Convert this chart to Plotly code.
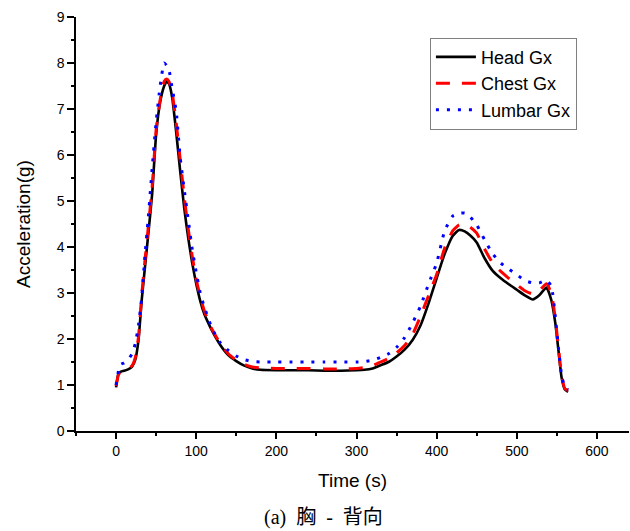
import plotly.graph_objects as go

time_s = [0, 3, 6, 10, 15, 20, 24, 28, 32, 36, 40, 45, 50, 55, 60, 63, 66, 70, 75, 80, 85, 90, 95,
          100, 105, 110, 115, 120, 130, 140, 150, 160, 170, 180, 200, 220, 240, 260, 280, 300,
          310, 320, 330, 340, 350, 360, 370, 380, 390, 400, 410, 420, 428, 435, 442, 450, 460,
          470, 480, 490, 500, 510, 520, 528, 537, 543, 548, 552, 556, 560, 564]

head_gx = [0.95, 1.25, 1.29, 1.31, 1.34, 1.40, 1.55, 1.98, 2.85, 3.55, 4.25, 5.15, 6.45, 7.15, 7.5, 7.6, 7.55,
           7.25, 6.5, 5.65, 4.85, 4.2, 3.65, 3.2, 2.83, 2.55, 2.35, 2.17, 1.87, 1.65, 1.52, 1.42, 1.36,
           1.33, 1.32, 1.32, 1.32, 1.31, 1.31, 1.32, 1.33, 1.36, 1.43, 1.5, 1.62, 1.77, 1.98, 2.3, 2.78,
           3.32, 3.85, 4.24, 4.37, 4.34, 4.25, 4.1, 3.75, 3.48, 3.32, 3.19, 3.07, 2.95, 2.86, 2.95, 3.12,
           2.85, 2.35, 1.75, 1.15, 0.9, 0.85]

chest_gx = [0.98, 1.22, 1.3, 1.32, 1.35, 1.42, 1.6, 2.05, 2.95, 3.7, 4.4, 5.3, 6.55, 7.2, 7.6, 7.65, 7.6,
            7.35, 6.7, 5.9, 5.1, 4.4, 3.8, 3.3, 2.92, 2.62, 2.4, 2.2, 1.9, 1.68, 1.54, 1.45, 1.39,
            1.37, 1.36, 1.36, 1.36, 1.35, 1.35, 1.36, 1.38, 1.42, 1.5, 1.58, 1.7, 1.86, 2.1, 2.5, 2.95,
            3.4, 3.98, 4.35, 4.48, 4.5, 4.43, 4.3, 3.95, 3.65, 3.47, 3.32, 3.18, 3.05, 2.98, 3.05, 3.2,
            3.0, 2.45, 1.8, 1.2, 0.92, 0.88]

lumbar_gx = [1.0, 1.3, 1.45, 1.48, 1.55, 1.68, 1.9, 2.3, 2.9, 3.8, 4.6, 5.7, 6.72, 7.5, 8.0, 7.95, 7.85,
             7.45, 6.95, 5.95, 5.25, 4.6, 3.95, 3.45, 3.0, 2.7, 2.45, 2.22, 1.92, 1.75, 1.63, 1.55, 1.51,
             1.5, 1.5, 1.5, 1.5, 1.5, 1.5, 1.5, 1.51, 1.54, 1.6, 1.68, 1.82, 2.03, 2.35, 2.72, 3.2,
             3.65, 4.35, 4.67, 4.73, 4.74, 4.65, 4.48, 4.15, 3.85, 3.65, 3.52, 3.4, 3.27, 3.22, 3.22, 3.28,
             3.15, 2.5, 1.8, 1.2, 0.95, 0.9]

caption = "(a)\u00a0\u00a0胸\u00a0\u00a0-\u00a0\u00a0背向"

fig = go.Figure()
fig.add_trace(go.Scatter(x=time_s, y=head_gx, mode="lines", name="Head Gx",
                         line=dict(color="#000000", width=2.6, shape="spline", smoothing=0.5)))
fig.add_trace(go.Scatter(x=time_s, y=chest_gx, mode="lines", name="Chest Gx",
                         line=dict(color="#ff0000", width=3, dash="14px,12px", shape="spline", smoothing=0.5)))
fig.add_trace(go.Scatter(x=time_s, y=lumbar_gx, mode="lines", name="Lumbar Gx",
                         line=dict(color="#0000ff", width=3, dash="3px,8px", shape="spline", smoothing=0.5)))

axis_font = dict(family="Liberation Sans, Arial, sans-serif", size=14, color="#000")
fig.update_layout(
    width=630, height=531,
    margin=dict(l=76, r=1, t=17, b=100),
    paper_bgcolor="white", plot_bgcolor="white",
    font=dict(family="Liberation Sans, Arial, sans-serif", color="#000"),
    showlegend=True,
    legend=dict(x=0.64, y=0.95, xanchor="left", yanchor="top",
                bordercolor="#808080", borderwidth=1, bgcolor="white",
                font=dict(family="Liberation Sans, Arial, sans-serif", size=18, color="#000"),
                tracegroupgap=0, itemwidth=40),
    xaxis=dict(range=[-50, 640], tickmode="array", tickvals=[0, 100, 200, 300, 400, 500, 600],
               ticks="outside", ticklen=6, tickwidth=1.5, tickcolor="#000",
               minor=dict(tickvals=[-50, 50, 150, 250, 350, 450, 550, 650], ticks="outside",
                          ticklen=3, tickwidth=1.5, tickcolor="#000"),
               showline=True, linecolor="#000", linewidth=1.5, showgrid=False, zeroline=False,
               tickfont=axis_font,
               title=dict(text="Time (s)", font=dict(family="Liberation Sans, Arial, sans-serif", size=19), standoff=16)),
    yaxis=dict(range=[0, 9], tickmode="array", tickvals=list(range(0, 10)),
               ticks="outside", ticklen=7, tickwidth=1.5, tickcolor="#000",
               minor=dict(tickvals=[0.5 + i for i in range(9)], ticks="outside",
                          ticklen=3, tickwidth=1.5, tickcolor="#000"),
               showline=True, linecolor="#000", linewidth=1.5, showgrid=False, zeroline=False,
               tickfont=axis_font,
               title=dict(text="Acceleration(g)", font=dict(family="Liberation Sans, Arial, sans-serif", size=19), standoff=21)),
)
fig.add_annotation(text=caption, xref="paper", yref="paper", x=0.4476, y=-0.21,
                   xanchor="center", yanchor="middle", showarrow=False,
                   font=dict(family="Liberation Serif, Noto Sans CJK SC, serif", size=20, color="#000"))

fig.write_html("out.html")
